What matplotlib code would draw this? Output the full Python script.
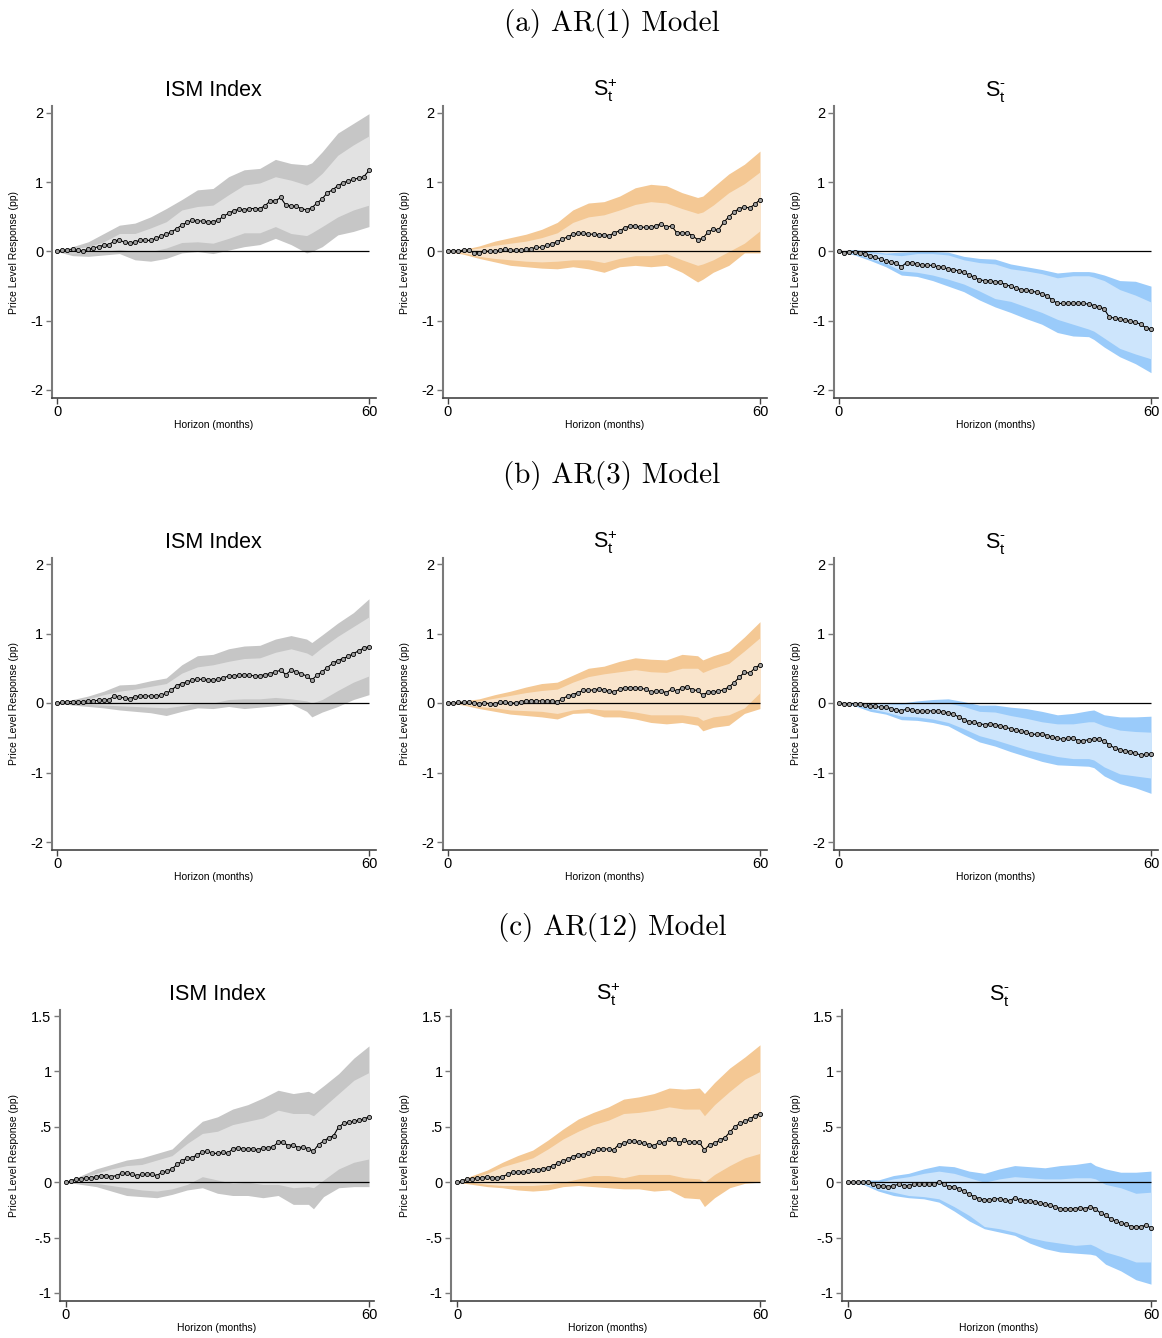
import matplotlib
matplotlib.use("Agg")
import matplotlib.pyplot as plt
import numpy as np

plt.rcParams['font.family'] = ['Liberation Sans', 'DejaVu Sans']
plt.rcParams['mathtext.fontset'] = 'custom'
plt.rcParams['mathtext.rm'] = 'Liberation Sans'
plt.rcParams['mathtext.it'] = 'Liberation Sans:italic'
plt.rcParams['axes.unicode_minus'] = False

# horizons (months): every month for the point estimate, every 3 months (+49) for the bands
horizon = np.arange(61)
band_horizon = [0, 3, 6, 9, 12, 15, 18, 21, 24, 27, 30, 33, 36, 39, 42, 45, 48, 49, 51, 54, 57, 60]

row_titles = ["(a) AR(1) Model", "(b) AR(3) Model", "(c) AR(12) Model"]
col_titles = ["ISM Index", r"$\mathrm{S}_{\mathrm{t}}^{+}$", "$\\mathrm{S}_{\\mathrm{t}}^{\u2010}$"]
x_ticks = [0, 60]
y_ticks_ab = [-2, -1, 0, 1, 2]
y_labels_ab = ["-2", "-1", "0", "1", "2"]
y_ticks_c = [-1, -0.5, 0, 0.5, 1, 1.5]
y_labels_c = ["-1", "-.5", "0", ".5", "1", "1.5"]

# ---- (a) AR(1) ----
ism_ar1_mean = [0, 0.02, 0.02, 0.03, 0.02, 0.01, 0.03, 0.05, 0.07, 0.09,
                0.10, 0.15, 0.17, 0.13, 0.12, 0.14, 0.16, 0.16, 0.16, 0.19,
                0.22, 0.25, 0.28, 0.33, 0.38, 0.42, 0.45, 0.44, 0.44, 0.43,
                0.43, 0.45, 0.51, 0.55, 0.59, 0.61, 0.60, 0.62, 0.62, 0.62,
                0.66, 0.73, 0.73, 0.78, 0.67, 0.66, 0.65, 0.62, 0.60, 0.63,
                0.70, 0.76, 0.85, 0.89, 0.95, 0.99, 1.02, 1.04, 1.06, 1.08, 1.17]
ism_ar1_hi90 = [0, 0.07, 0.14, 0.26, 0.38, 0.41, 0.50, 0.62, 0.75, 0.89, 0.91, 1.08, 1.18, 1.20, 1.33, 1.27, 1.25, 1.28, 1.44, 1.71, 1.85, 1.99]
ism_ar1_hi68 = [0, 0.04, 0.07, 0.14, 0.26, 0.26, 0.34, 0.43, 0.60, 0.65, 0.67, 0.82, 0.96, 0.99, 1.08, 1.03, 0.96, 1.00, 1.13, 1.39, 1.54, 1.67]
ism_ar1_lo68 = [0, -0.02, -0.01, 0.00, 0.03, 0.00, 0.00, 0.05, 0.13, 0.14, 0.12, 0.19, 0.27, 0.27, 0.36, 0.26, 0.23, 0.27, 0.36, 0.50, 0.60, 0.67]
ism_ar1_lo90 = [0, -0.06, -0.07, -0.05, -0.03, -0.12, -0.14, -0.10, -0.02, 0.00, -0.03, 0.02, 0.07, 0.10, 0.19, 0.10, -0.02, 0.00, 0.07, 0.24, 0.29, 0.36]

splus_ar1_mean = [0, 0.01, 0.01, 0.02, 0.02, -0.02, -0.02, 0.01, 0.00, 0.00,
                  0.02, 0.03, 0.02, 0.02, 0.02, 0.03, 0.04, 0.06, 0.06, 0.09,
                  0.11, 0.14, 0.18, 0.21, 0.25, 0.26, 0.26, 0.25, 0.25, 0.24,
                  0.24, 0.23, 0.27, 0.30, 0.34, 0.37, 0.37, 0.35, 0.35, 0.35,
                  0.37, 0.40, 0.35, 0.37, 0.27, 0.27, 0.27, 0.23, 0.17, 0.19,
                  0.28, 0.32, 0.31, 0.42, 0.50, 0.57, 0.62, 0.64, 0.63, 0.68, 0.75]
splus_ar1_hi90 = [0, 0.03, 0.08, 0.15, 0.20, 0.25, 0.32, 0.42, 0.60, 0.70, 0.72, 0.80, 0.92, 0.97, 0.95, 0.85, 0.78, 0.80, 0.93, 1.12, 1.26, 1.45]
splus_ar1_hi68 = [0, 0.02, 0.05, 0.09, 0.12, 0.15, 0.20, 0.27, 0.42, 0.50, 0.53, 0.60, 0.68, 0.72, 0.70, 0.62, 0.55, 0.57, 0.67, 0.85, 0.98, 1.15]
splus_ar1_lo68 = [0, -0.02, -0.07, -0.10, -0.12, -0.14, -0.15, -0.14, -0.12, -0.12, -0.16, -0.10, -0.06, -0.06, -0.03, -0.12, -0.20, -0.18, -0.12, 0.00, 0.12, 0.30]
splus_ar1_lo90 = [0, -0.04, -0.10, -0.15, -0.20, -0.22, -0.24, -0.25, -0.22, -0.25, -0.30, -0.22, -0.20, -0.22, -0.20, -0.30, -0.44, -0.40, -0.30, -0.20, -0.02, -0.02]

sminus_ar1_mean = [0, -0.02, -0.01, -0.01, -0.02, -0.03, -0.06, -0.08, -0.11, -0.14,
                   -0.15, -0.17, -0.22, -0.16, -0.16, -0.18, -0.20, -0.20, -0.20, -0.22,
                   -0.23, -0.25, -0.26, -0.28, -0.30, -0.34, -0.37, -0.41, -0.42, -0.42,
                   -0.44, -0.44, -0.48, -0.50, -0.53, -0.55, -0.56, -0.57, -0.59, -0.61,
                   -0.64, -0.70, -0.75, -0.75, -0.75, -0.75, -0.75, -0.75, -0.76, -0.78,
                   -0.80, -0.83, -0.95, -0.96, -0.98, -0.99, -1.01, -1.02, -1.05, -1.10, -1.12]
sminus_ar1_hi90 = [0, 0.03, 0.00, -0.02, -0.01, 0.00, 0.00, -0.01, -0.07, -0.10, -0.11, -0.18, -0.22, -0.26, -0.31, -0.29, -0.29, -0.30, -0.34, -0.42, -0.43, -0.50]
sminus_ar1_hi68 = [0, 0.00, -0.02, -0.04, -0.06, -0.03, -0.03, -0.05, -0.12, -0.16, -0.18, -0.25, -0.28, -0.32, -0.38, -0.35, -0.35, -0.37, -0.42, -0.55, -0.63, -0.73]
sminus_ar1_lo68 = [0, -0.03, -0.10, -0.17, -0.28, -0.30, -0.34, -0.40, -0.47, -0.57, -0.68, -0.72, -0.80, -0.88, -0.98, -1.05, -1.12, -1.15, -1.25, -1.40, -1.48, -1.55]
sminus_ar1_lo90 = [0, -0.05, -0.13, -0.22, -0.34, -0.36, -0.42, -0.50, -0.58, -0.70, -0.80, -0.88, -0.97, -1.05, -1.17, -1.22, -1.23, -1.27, -1.38, -1.52, -1.62, -1.75]

# ---- (b) AR(3) ----
ism_ar3_mean = [0, 0.01, 0.02, 0.02, 0.02, 0.02, 0.03, 0.03, 0.04, 0.04,
                0.05, 0.10, 0.09, 0.07, 0.06, 0.09, 0.10, 0.10, 0.10, 0.10,
                0.11, 0.14, 0.18, 0.25, 0.28, 0.30, 0.33, 0.34, 0.34, 0.33,
                0.33, 0.34, 0.36, 0.39, 0.39, 0.40, 0.40, 0.40, 0.39, 0.39,
                0.41, 0.42, 0.45, 0.47, 0.41, 0.47, 0.45, 0.42, 0.39, 0.33,
                0.40, 0.45, 0.51, 0.57, 0.61, 0.64, 0.67, 0.71, 0.75, 0.79, 0.81]
ism_ar3_hi90 = [0, 0.05, 0.10, 0.17, 0.26, 0.27, 0.32, 0.36, 0.55, 0.68, 0.70, 0.78, 0.82, 0.83, 0.92, 0.97, 0.92, 0.87, 0.98, 1.15, 1.30, 1.50]
ism_ar3_hi68 = [0, 0.03, 0.06, 0.12, 0.17, 0.20, 0.24, 0.28, 0.43, 0.52, 0.55, 0.60, 0.64, 0.65, 0.73, 0.78, 0.72, 0.68, 0.80, 0.96, 1.10, 1.24]
ism_ar3_lo68 = [0, -0.01, -0.02, -0.03, -0.04, -0.05, -0.06, -0.07, -0.04, 0.00, 0.00, 0.05, 0.06, 0.06, 0.08, 0.06, 0.03, 0.00, 0.05, 0.18, 0.30, 0.39]
ism_ar3_lo90 = [0, -0.03, -0.05, -0.07, -0.10, -0.12, -0.14, -0.18, -0.12, -0.07, -0.08, -0.05, -0.08, -0.06, -0.04, -0.01, -0.12, -0.20, -0.13, -0.05, 0.05, 0.12]

splus_ar3_mean = [0, 0.00, 0.01, 0.01, 0.01, 0.00, -0.01, 0.00, -0.01, -0.01,
                  0.01, 0.01, 0.00, 0.00, 0.02, 0.03, 0.03, 0.03, 0.03, 0.03,
                  0.03, 0.02, 0.06, 0.10, 0.12, 0.15, 0.18, 0.18, 0.19, 0.20,
                  0.19, 0.17, 0.16, 0.20, 0.22, 0.22, 0.22, 0.21, 0.20, 0.16,
                  0.17, 0.17, 0.15, 0.20, 0.17, 0.22, 0.23, 0.19, 0.18, 0.11,
                  0.16, 0.16, 0.17, 0.19, 0.23, 0.29, 0.37, 0.44, 0.43, 0.50, 0.55]
splus_ar3_hi90 = [0, 0.03, 0.06, 0.12, 0.17, 0.23, 0.28, 0.30, 0.40, 0.50, 0.53, 0.60, 0.65, 0.63, 0.62, 0.70, 0.68, 0.62, 0.68, 0.75, 0.95, 1.17]
splus_ar3_hi68 = [0, 0.02, 0.03, 0.07, 0.11, 0.15, 0.18, 0.20, 0.30, 0.38, 0.42, 0.45, 0.48, 0.45, 0.44, 0.50, 0.50, 0.44, 0.50, 0.57, 0.75, 0.94]
splus_ar3_lo68 = [0, -0.02, -0.05, -0.07, -0.10, -0.11, -0.12, -0.15, -0.10, -0.08, -0.10, -0.10, -0.13, -0.17, -0.17, -0.17, -0.20, -0.25, -0.20, -0.17, -0.07, 0.15]
splus_ar3_lo90 = [0, -0.03, -0.08, -0.12, -0.16, -0.18, -0.20, -0.23, -0.15, -0.14, -0.20, -0.20, -0.23, -0.28, -0.30, -0.28, -0.32, -0.40, -0.35, -0.32, -0.15, -0.08]

sminus_ar3_mean = [0, -0.01, -0.01, -0.01, -0.01, -0.03, -0.05, -0.05, -0.06, -0.06,
                   -0.08, -0.10, -0.11, -0.09, -0.10, -0.12, -0.12, -0.12, -0.11, -0.12,
                   -0.13, -0.14, -0.16, -0.20, -0.24, -0.27, -0.28, -0.30, -0.31, -0.30,
                   -0.31, -0.33, -0.35, -0.37, -0.39, -0.41, -0.42, -0.45, -0.45, -0.44,
                   -0.47, -0.49, -0.51, -0.52, -0.51, -0.51, -0.54, -0.54, -0.53, -0.52,
                   -0.52, -0.55, -0.60, -0.65, -0.67, -0.69, -0.70, -0.72, -0.75, -0.74, -0.74]
sminus_ar3_hi90 = [0, 0.01, 0.00, 0.00, 0.00, 0.03, 0.05, 0.06, 0.02, -0.03, -0.03, -0.06, -0.08, -0.12, -0.17, -0.15, -0.11, -0.10, -0.17, -0.20, -0.20, -0.19]
sminus_ar3_hi68 = [0, -0.01, -0.01, -0.01, -0.02, 0.00, 0.00, 0.00, -0.05, -0.12, -0.13, -0.18, -0.22, -0.27, -0.30, -0.30, -0.27, -0.27, -0.33, -0.39, -0.41, -0.42]
sminus_ar3_lo68 = [0, -0.03, -0.08, -0.13, -0.19, -0.20, -0.23, -0.28, -0.37, -0.47, -0.53, -0.60, -0.67, -0.72, -0.77, -0.80, -0.80, -0.82, -0.92, -1.02, -1.05, -1.08]
sminus_ar3_lo90 = [0, -0.04, -0.12, -0.16, -0.24, -0.25, -0.28, -0.33, -0.45, -0.56, -0.62, -0.70, -0.77, -0.84, -0.89, -0.90, -0.91, -0.93, -1.05, -1.16, -1.22, -1.30]

# ---- (c) AR(12) ----
ism_ar12_mean = [0, 0.01, 0.03, 0.03, 0.04, 0.04, 0.05, 0.06, 0.06, 0.05,
                 0.06, 0.08, 0.08, 0.07, 0.06, 0.07, 0.07, 0.07, 0.06, 0.09,
                 0.10, 0.12, 0.16, 0.19, 0.22, 0.22, 0.25, 0.27, 0.28, 0.26,
                 0.26, 0.27, 0.26, 0.30, 0.31, 0.30, 0.30, 0.30, 0.29, 0.31,
                 0.31, 0.32, 0.36, 0.36, 0.33, 0.34, 0.31, 0.32, 0.30, 0.28,
                 0.34, 0.37, 0.40, 0.42, 0.50, 0.53, 0.54, 0.55, 0.56, 0.57, 0.59]
ism_ar12_hi90 = [0, 0.06, 0.12, 0.16, 0.20, 0.22, 0.26, 0.30, 0.43, 0.55, 0.59, 0.66, 0.70, 0.76, 0.83, 0.80, 0.82, 0.80, 0.87, 0.98, 1.12, 1.23]
ism_ar12_hi68 = [0, 0.04, 0.08, 0.12, 0.15, 0.16, 0.20, 0.24, 0.35, 0.44, 0.46, 0.52, 0.55, 0.58, 0.65, 0.62, 0.62, 0.60, 0.68, 0.80, 0.92, 0.99]
ism_ar12_lo68 = [0, -0.01, -0.01, -0.03, -0.05, -0.07, -0.08, -0.06, -0.02, 0.05, 0.02, -0.01, 0.00, -0.02, -0.02, -0.05, -0.04, -0.05, 0.02, 0.12, 0.18, 0.21]
ism_ar12_lo90 = [0, -0.02, -0.04, -0.08, -0.12, -0.13, -0.14, -0.11, -0.07, -0.05, -0.10, -0.12, -0.12, -0.14, -0.12, -0.20, -0.20, -0.24, -0.13, -0.05, -0.04, -0.04]

splus_ar12_mean = [0, 0.01, 0.03, 0.03, 0.04, 0.04, 0.05, 0.04, 0.04, 0.05,
                   0.07, 0.09, 0.09, 0.09, 0.10, 0.11, 0.11, 0.12, 0.13, 0.15,
                   0.17, 0.19, 0.21, 0.23, 0.25, 0.25, 0.26, 0.28, 0.30, 0.30,
                   0.30, 0.29, 0.34, 0.35, 0.37, 0.37, 0.36, 0.35, 0.34, 0.33,
                   0.36, 0.35, 0.39, 0.39, 0.35, 0.38, 0.36, 0.36, 0.36, 0.29,
                   0.34, 0.35, 0.38, 0.40, 0.45, 0.50, 0.53, 0.55, 0.57, 0.60, 0.62]
splus_ar12_hi90 = [0, 0.06, 0.11, 0.18, 0.24, 0.29, 0.38, 0.48, 0.57, 0.63, 0.68, 0.75, 0.77, 0.80, 0.85, 0.84, 0.85, 0.80, 0.90, 1.03, 1.13, 1.24]
splus_ar12_hi68 = [0, 0.04, 0.08, 0.14, 0.18, 0.22, 0.30, 0.39, 0.46, 0.52, 0.56, 0.62, 0.63, 0.65, 0.68, 0.66, 0.66, 0.60, 0.70, 0.82, 0.93, 1.00]
splus_ar12_lo68 = [0, 0.00, -0.02, -0.03, -0.03, -0.03, -0.02, 0.00, 0.03, 0.06, 0.06, 0.04, 0.07, 0.07, 0.07, 0.04, 0.03, 0.00, 0.07, 0.15, 0.22, 0.26]
splus_ar12_lo90 = [0, -0.02, -0.04, -0.05, -0.07, -0.08, -0.07, -0.04, -0.03, -0.04, -0.05, -0.06, -0.06, -0.08, -0.07, -0.14, -0.15, -0.22, -0.14, -0.05, -0.01, 0.00]

sminus_ar12_mean = [0, 0.00, 0.00, 0.00, 0.00, -0.02, -0.03, -0.03, -0.04, -0.03,
                    -0.02, -0.03, -0.03, -0.02, -0.02, -0.02, -0.02, -0.02, 0.00, -0.02,
                    -0.04, -0.04, -0.06, -0.08, -0.11, -0.13, -0.15, -0.16, -0.16, -0.15,
                    -0.15, -0.16, -0.17, -0.14, -0.16, -0.17, -0.17, -0.18, -0.19, -0.20,
                    -0.21, -0.22, -0.24, -0.24, -0.24, -0.24, -0.23, -0.24, -0.22, -0.24,
                    -0.28, -0.30, -0.33, -0.35, -0.37, -0.38, -0.40, -0.40, -0.40, -0.39, -0.41]
sminus_ar12_hi90 = [0, 0.02, 0.02, 0.06, 0.08, 0.12, 0.15, 0.14, 0.10, 0.08, 0.12, 0.15, 0.14, 0.13, 0.15, 0.16, 0.18, 0.15, 0.12, 0.09, 0.09, 0.10]
sminus_ar12_hi68 = [0, 0.01, 0.00, 0.03, 0.05, 0.08, 0.10, 0.08, 0.04, 0.00, 0.03, 0.05, 0.04, 0.03, 0.03, 0.04, 0.04, 0.03, -0.02, -0.05, -0.10, -0.09]
sminus_ar12_lo68 = [0, -0.01, -0.06, -0.09, -0.12, -0.13, -0.15, -0.22, -0.30, -0.40, -0.42, -0.45, -0.50, -0.53, -0.55, -0.57, -0.56, -0.58, -0.63, -0.67, -0.72, -0.72]
sminus_ar12_lo90 = [0, -0.02, -0.08, -0.12, -0.14, -0.15, -0.18, -0.26, -0.35, -0.42, -0.45, -0.48, -0.55, -0.60, -0.63, -0.64, -0.65, -0.66, -0.74, -0.80, -0.88, -0.92]

# band colours: (outer 90%, inner 68%)
grey_band = ("#c6c6c6", "#e2e2e2")
orange_band = ("#f4c894", "#f9e4cb")
blue_band = ("#9acbfa", "#cde5fc")

rows = [
    [(ism_ar1_mean, ism_ar1_hi90, ism_ar1_hi68, ism_ar1_lo68, ism_ar1_lo90, grey_band),
     (splus_ar1_mean, splus_ar1_hi90, splus_ar1_hi68, splus_ar1_lo68, splus_ar1_lo90, orange_band),
     (sminus_ar1_mean, sminus_ar1_hi90, sminus_ar1_hi68, sminus_ar1_lo68, sminus_ar1_lo90, blue_band)],
    [(ism_ar3_mean, ism_ar3_hi90, ism_ar3_hi68, ism_ar3_lo68, ism_ar3_lo90, grey_band),
     (splus_ar3_mean, splus_ar3_hi90, splus_ar3_hi68, splus_ar3_lo68, splus_ar3_lo90, orange_band),
     (sminus_ar3_mean, sminus_ar3_hi90, sminus_ar3_hi68, sminus_ar3_lo68, sminus_ar3_lo90, blue_band)],
    [(ism_ar12_mean, ism_ar12_hi90, ism_ar12_hi68, ism_ar12_lo68, ism_ar12_lo90, grey_band),
     (splus_ar12_mean, splus_ar12_hi90, splus_ar12_hi68, splus_ar12_lo68, splus_ar12_lo90, orange_band),
     (sminus_ar12_mean, sminus_ar12_hi90, sminus_ar12_hi68, sminus_ar12_lo68, sminus_ar12_lo90, blue_band)],
]

# layout in pixels of the 1162x1338 canvas
W, H = 1162, 1338
# per row: (value a, pixel a, value b, pixel b), ylim, xlim, ticks, labels, row title y
row_layout = [
    ((2, 113, -2, 390), (-2.115, 2.1), (-1.0, 61.3), y_ticks_ab, y_labels_ab, 23),
    ((2, 564, -2, 842), (-2.11, 2.09), (-1.0, 61.3), y_ticks_ab, y_labels_ab, 476),
    ((1.5, 1016, -1, 1293), (-1.072, 1.555), (-1.2, 61.0), y_ticks_c, y_labels_c, 928),
]
# per row, per column: pixel of horizon 0 and horizon 60
col_layout = [
    [(57, 369), (448, 760), (839, 1151)],
    [(57, 369), (448, 760), (839, 1151)],
    [(66, 369), (457, 760), (848, 1151)],
]
ylabel_center_px = [14, 405, 796]

fig = plt.figure(figsize=(W / 100, H / 100), dpi=100)

for r, (row, layout) in enumerate(zip(rows, row_layout)):
    (va, pa, vb, pb), ylim, xlim, yticks, ylabels, title_y = layout
    fig.text(612 / W, 1 - title_y / H, row_titles[r], family='cmr10',
             fontsize=21, ha='center', va='center')
    k = (pb - pa) / (va - vb)
    top = pa + (va - ylim[1]) * k
    bottom = pa + (va - ylim[0]) * k
    for c, (mean, hi90, hi68, lo68, lo90, colors) in enumerate(row):
        px0, px60 = col_layout[r][c]
        sx = (px60 - px0) / 60
        left = px0 + xlim[0] * sx
        right = px0 + xlim[1] * sx
        ax_w = right - left
        ax_h = bottom - top
        ax = fig.add_axes([left / W, 1 - bottom / H, ax_w / W, ax_h / H])

        ax.fill_between(band_horizon, lo90, hi90, color=colors[0], lw=0)
        ax.fill_between(band_horizon, lo68, hi68, color=colors[1], lw=0)
        ax.hlines(0, horizon[0], horizon[-1], color='black', lw=0.9)
        ax.plot(horizon, mean, color='black', lw=0.8, marker='o', ms=3.0,
                mfc='#a0a0a0', mec='black', mew=0.6)

        ax.set_xlim(*xlim)
        ax.set_ylim(*ylim)
        ax.set_xticks(x_ticks, [str(t) for t in x_ticks])
        ax.set_yticks(yticks, ylabels)
        for side in ('top', 'right'):
            ax.spines[side].set_visible(False)
        ax.spines['left'].set_color('#7a7a7a')
        ax.spines['left'].set_linewidth(1.5)
        ax.spines['bottom'].set_color('#444444')
        ax.spines['bottom'].set_linewidth(1.2)
        ax.tick_params(axis='y', length=4, width=1, color='#7a7a7a', labelsize=10.5, pad=2)
        ax.tick_params(axis='x', length=4, width=1, color='#444444', labelsize=10.5, pad=1)
        ax.set_facecolor('none')

        ax.set_title(col_titles[c], fontsize=15.5, pad=7)
        ax.set_ylabel("Price Level Response (pp)", fontsize=7.5)
        ax.yaxis.set_label_coords((ylabel_center_px[c] + 5 - left) / ax_w, 0.5)
        ax.set_xlabel("Horizon (months)", fontsize=7.5)
        ax.xaxis.set_label_coords(0.5, -22 / ax_h)

fig.savefig("out.png", dpi=100)
